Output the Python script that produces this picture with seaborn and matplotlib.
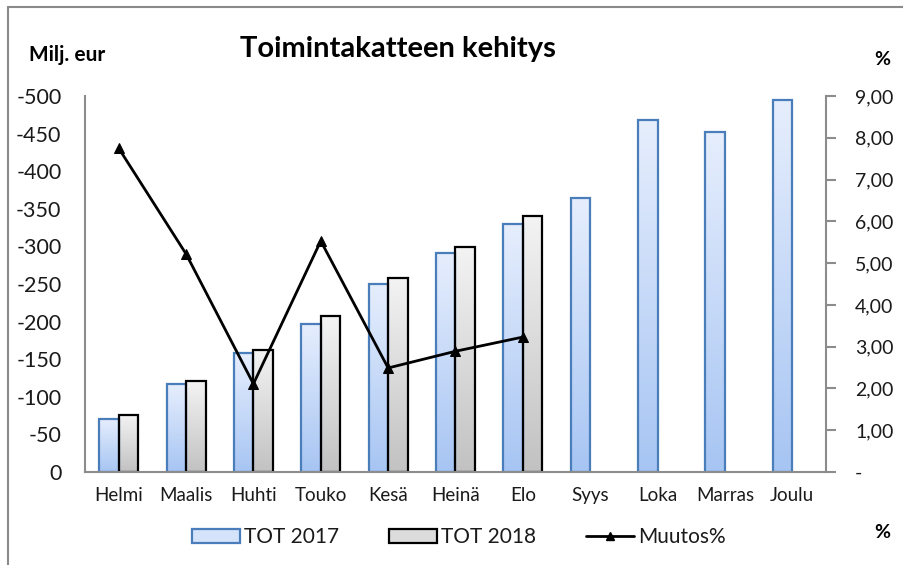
import numpy as np
import pandas as pd
import matplotlib
matplotlib.use("Agg")
import matplotlib.pyplot as plt
import seaborn as sns
from matplotlib.patches import Patch
from matplotlib.lines import Line2D
from matplotlib.colors import to_rgb
from matplotlib.ticker import FixedLocator, FuncFormatter

months = ["Helmi", "Maalis", "Huhti", "Touko", "Kesä", "Heinä", "Elo",
          "Syys", "Loka", "Marras", "Joulu"]
tot_2017 = [-71, -117, -158, -197, -250, -291, -330, -364, -468, -452, -495]
tot_2018 = [-76, -121, -162, -207, -258, -299, -340, np.nan, np.nan, np.nan, np.nan]
muutos = [7.75, 5.22, 2.11, 5.53, 2.49, 2.89, 3.23]
series_names = ["TOT 2017", "TOT 2018", "Muutos%"]
left_ticks = [0, -50, -100, -150, -200, -250, -300, -350, -400, -450, -500]
right_ticks = [0, 1, 2, 3, 4, 5, 6, 7, 8, 9]

sns.set_theme(style="white")
plt.rcParams["font.family"] = ["Lato", "DejaVu Sans"]
plt.rcParams["axes.unicode_minus"] = False

df = pd.DataFrame({
    "month": months * 2,
    "series": [series_names[0]] * len(months) + [series_names[1]] * len(months),
    "value": tot_2017 + tot_2018,
})

fig = plt.figure(figsize=(9.04, 5.65), dpi=100)
ax = fig.add_axes([85 / 904, 1 - 472 / 565, (826 - 85) / 904, (472 - 96) / 565])

edge17 = "#4A7EBB"
edge18 = "#000000"
sns.barplot(data=df, x="month", y="value", hue="series", order=months,
            hue_order=series_names[:2], palette=["#C9DAF8", "#DADADA"],
            width=0.58, gap=0, ax=ax, legend=False, errorbar=None)

ax.set_ylim(0, -500)
ax.set_xlim(-0.5, len(months) - 0.5)

grad = {
    0: (to_rgb("#E6EEFD"), to_rgb("#A7C5F3"), edge17),
    1: (to_rgb("#F3F3F3"), to_rgb("#C2C2C2"), edge18),
}
bars = [p for p in ax.patches]
n = len(months)
for i, p in enumerate(bars):
    h = p.get_height()
    if not np.isfinite(h) or h == 0:
        continue
    k = 0 if i < n else 1
    top_c, bot_c, ec = grad[k]
    t = np.linspace(0, 1, 64)[:, None, None]
    img = np.array(top_c)[None, None, :] * (1 - t) + np.array(bot_c)[None, None, :] * t
    x0 = p.get_x()
    w = p.get_width()
    im = ax.imshow(img, extent=(x0, x0 + w, 0, h), origin="upper",
                   aspect="auto", zorder=1.5, interpolation="bilinear")
    im.set_clip_path(p)
    p.set_facecolor("none")
    p.set_edgecolor(ec)
    p.set_linewidth(1.6)
    p.set_zorder(2)

ax.set_ylim(0, -500)
ax.set_xlim(-0.5, len(months) - 0.5)

ax.set_xlabel("")
ax.set_ylabel("")
ax.yaxis.set_major_locator(FixedLocator(left_ticks))
ax.yaxis.set_major_formatter(FuncFormatter(lambda v, _: f"{int(round(v))}"))
ax.tick_params(axis="y", length=0, pad=17, labelsize=15.5, colors="#1A1A1A")
ax.tick_params(axis="x", which="major", length=0, pad=11, labelsize=13.5, colors="#1A1A1A")
ax.set_xticks(np.arange(-0.5, len(months) + 0.5, 1), minor=True)
ax.tick_params(axis="x", which="minor", length=6, width=1.5, color="#8C8C8C", direction="out")

for s in ["left", "bottom"]:
    ax.spines[s].set_color("#8C8C8C")
    ax.spines[s].set_linewidth(1.5)
ax.spines["top"].set_visible(False)
ax.spines["right"].set_visible(False)

ax2 = ax.twinx()
sns.lineplot(x=np.arange(len(muutos)), y=muutos, ax=ax2, color="black",
             linewidth=2, marker="^", markersize=7, markeredgecolor="black")
ax2.set_ylim(0, 9)
ax2.yaxis.set_major_locator(FixedLocator(right_ticks))
ax2.yaxis.set_major_formatter(FuncFormatter(
    lambda v, _: "-" if abs(v) < 1e-9 else f"{v:.2f}".replace(".", ",")))
ax2.tick_params(axis="y", length=7, width=1.5, color="#8C8C8C", direction="out",
                pad=14, labelsize=14, colors="#1A1A1A")
ax2.tick_params(axis="y", color="#8C8C8C")
for s in ["left", "top", "bottom"]:
    ax2.spines[s].set_visible(False)
ax2.spines["right"].set_color("#8C8C8C")
ax2.spines["right"].set_linewidth(1.5)
ax2.grid(False)
ax.grid(False)

fig.text(398 / 904, 1 - 49 / 565, "Toimintakatteen kehitys", ha="center", va="center",
         fontsize=21, fontweight="bold", color="black")
fig.text(29 / 904, 1 - 55 / 565, "Milj. eur", ha="left", va="center",
         fontsize=15, fontweight="bold", color="black")
fig.text(882 / 904, 1 - 60 / 565, "%", ha="center", va="center",
         fontsize=14, fontweight="bold", color="black")
fig.text(882 / 904, 1 - 533 / 565, "%", ha="center", va="center",
         fontsize=14, fontweight="bold", color="black")

handles = [
    Patch(facecolor="#D5E3FA", edgecolor=edge17, linewidth=1.6),
    Patch(facecolor="#DCDCDC", edgecolor=edge18, linewidth=1.6),
    Line2D([], [], color="black", linewidth=2, marker="^", markersize=6),
]
fig.legend(handles, series_names, loc="center", bbox_to_anchor=(459 / 904, 1 - 537 / 565),
           ncol=3, frameon=False, fontsize=15, handlelength=2.3, handleheight=0.65,
           handletextpad=0.2, columnspacing=2.4, labelcolor="#1A1A1A")

fig.add_artist(Line2D([8 / 904, 8 / 904], [0, 1 - 7 / 565], transform=fig.transFigure,
                      color="#8A8A8A", linewidth=1.5))
fig.add_artist(Line2D([8 / 904, 1], [1 - 7 / 565, 1 - 7 / 565], transform=fig.transFigure,
                      color="#8A8A8A", linewidth=1.5))

fig.savefig("out.png", dpi=100)
